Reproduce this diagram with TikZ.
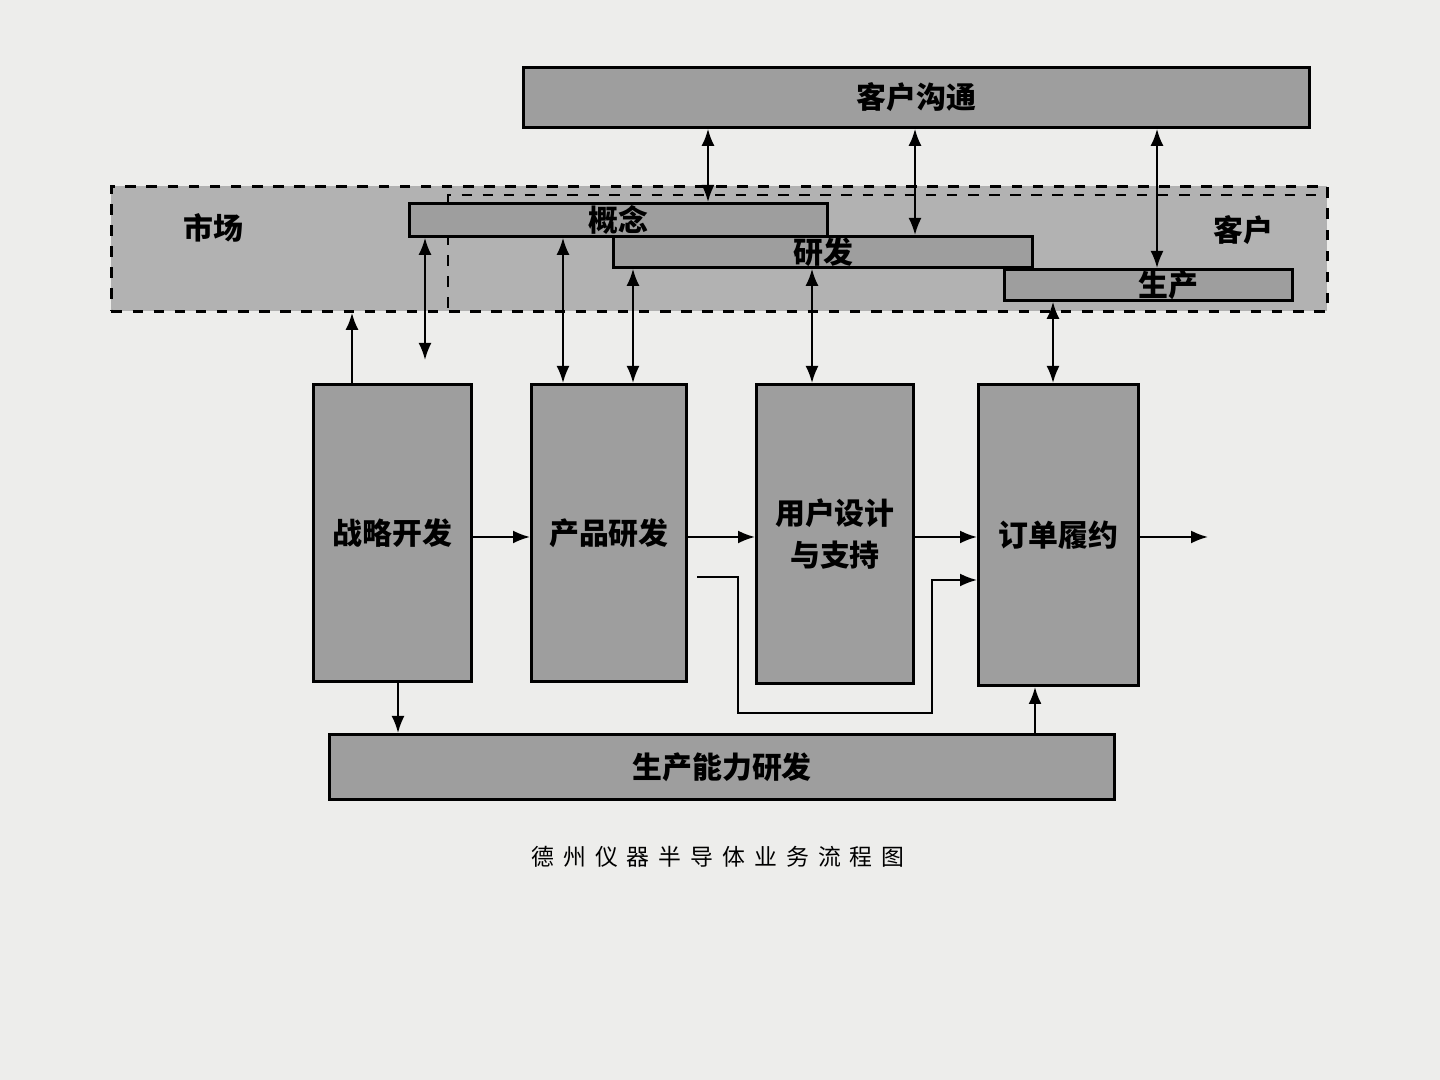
\documentclass[tikz,border=0pt]{standalone}
\usepackage{fontspec}
\setmainfont{Noto Sans CJK SC}
\usepackage{tikz}
\usetikzlibrary{positioning, arrows.meta, calc}
\definecolor{paper}{rgb}{0.93,0.93,0.92}
\definecolor{boxgray}{rgb}{0.62,0.62,0.62}
\definecolor{bandgray}{rgb}{0.70,0.70,0.70}
\tikzstyle{proc}=[%
      rectangle, draw=black, thick, fill=boxgray, anchor=north west,
      inner sep=0pt, align=center, font=\bfseries\fontsize{8.5}{12}\selectfont
]
\tikzstyle{bar}=[%
      rectangle, draw=black, thick, fill=boxgray, anchor=north west,
      inner sep=0pt, font=\bfseries\fontsize{8.5}{9}\selectfont
]
\tikzstyle{band}=[%
      rectangle, draw=black, thick, dashed, fill=bandgray, anchor=north west, inner sep=0pt
]
\begin{document}
\begin{tikzpicture}[x=0.01cm, y=-0.01cm,
    >={Latex[length=1.7mm,width=1.3mm]}, semithick
  ]
    \fill[paper] (0,0) rectangle (1440,1080);
    \useasboundingbox (0,0) rectangle (1440,1080);

    % dashed regions
    \node[band, minimum width=12.15cm, minimum height=1.25cm] (market) at (110,185) {};
    \draw[thick, dashed] (448,308) -- (448,195) -- (1325,195);
    \node[font=\bfseries\fontsize{8.5}{9}\selectfont] (marketlbl) at (213,228) {市场};
    \node[font=\bfseries\fontsize{8.5}{9}\selectfont] (custlbl) at (1243,230) {客户};

    % top bars
    \node[bar, minimum width=7.86cm, minimum height=0.6cm] (comm) at (522,66) {客户沟通};
    \node[bar, minimum width=4.18cm, minimum height=0.33cm] (concept) at (408,202) {概念};
    \node[bar, minimum width=4.19cm, minimum height=0.31cm] (rd) at (612,235) {研发};
    \node[bar, minimum width=2.88cm, minimum height=0.31cm] (prod) at (1003,268) {\hspace{0.4cm}生产};

    % process boxes
    \node[proc, minimum width=1.58cm, minimum height=2.97cm] (strat) at (312,383) {战略开发};
    \node[proc, minimum width=1.55cm, minimum height=2.97cm] (prd) at (530,383) {产品研发};
    \node[proc, minimum width=1.57cm, minimum height=2.99cm] (user) at (755,383) {用户设计\\与支持};
    \node[proc, minimum width=1.60cm, minimum height=3.01cm] (order) at (977,383) {订单履约};
    \node[bar, minimum width=7.85cm, minimum height=0.65cm] (cap) at (328,733) {生产能力研发};

    \node[font=\fontsize{6.5}{8}\selectfont] (caption) at (718,857) {德\hspace{0.09cm}州\hspace{0.09cm}仪\hspace{0.09cm}器\hspace{0.09cm}半\hspace{0.09cm}导\hspace{0.09cm}体\hspace{0.09cm}业\hspace{0.09cm}务\hspace{0.09cm}流\hspace{0.09cm}程\hspace{0.09cm}图};

    \coordinate (c1) at (425,360);
    \coordinate (out) at (1208,537);

    % vertical links
    \draw[->] (strat.north west -| 352,0) -- (market.south west -| 352,0);
    \draw[<->] (concept.south west -| 425,0) -- (c1);
    \draw[<->] (concept.south west -| 563,0) -- (prd.north west -| 563,0);
    \draw[<->] (rd.south west -| 633,0) -- (prd.north west -| 633,0);
    \draw[<->] (rd.south west -| 812,0) -- (user.north west -| 812,0);
    \draw[<->] (prod.south west -| 1053,0) -- (order.north west -| 1053,0);
    \draw[<->] (comm.south west -| 708,0) -- (concept.north west -| 708,0);
    \draw[<->] (comm.south west -| 915,0) -- (rd.north west -| 915,0);
    \draw[<->] (comm.south west -| 1157,0) -- (prod.north west -| 1157,0);

    % flow
    \draw[->] (strat.east |- 0,537) -- (prd.west |- 0,537);
    \draw[->] (prd.east |- 0,537) -- (user.west |- 0,537);
    \draw[->] (user.east |- 0,537) -- (order.west |- 0,537);
    \draw[->] (order.east |- 0,537) -- (out);
    \draw[->] (697,577) -- (738,577) -- (738,713) -- (932,713) -- (932,580) -- (order.west |- 0,580);
    \draw[->] (strat.south west -| 398,0) -- (cap.north west -| 398,0);
    \draw[->] (cap.north west -| 1035,0) -- (order.south west -| 1035,0);
\end{tikzpicture}
\end{document}
